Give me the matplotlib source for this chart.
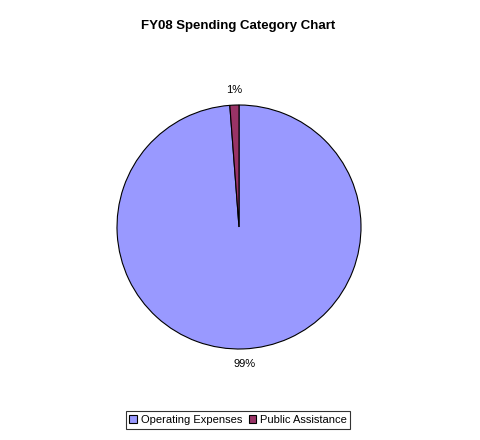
import matplotlib
matplotlib.use("Agg")
import matplotlib.pyplot as plt
from matplotlib.patches import Patch

categories = ["Operating Expenses", "Public Assistance"]
values = [98.8, 1.2]
colors = ["#9999FF", "#993366"]
title = "FY08 Spending Category Chart"

plt.rcParams['font.family'] = ['Liberation Sans', 'DejaVu Sans']

W, H = 481, 440
fig = plt.figure(figsize=(W / 100, H / 100), dpi=100)
fig.patch.set_facecolor("white")

cx, cy, r = 239, 227, 122
ax = fig.add_axes([(cx - r) / W, (H - cy - r) / H, 2 * r / W, 2 * r / H])
wedges, texts, autotexts = ax.pie(
    values, colors=colors, startangle=90, counterclock=False,
    autopct=lambda p: f"{p:.0f}%", pctdistance=1.12, radius=1,
    wedgeprops=dict(edgecolor="black", linewidth=0.8),
    textprops=dict(fontsize=8, color="black"))
ax.set_xlim(-1, 1)
ax.set_ylim(-1, 1)
ax.set_aspect("equal")
ax.axis("off")

fig.text(0.495, 1 - 26 / H, title, ha="center", va="center",
         fontsize=9.5, fontweight="bold")

handles = [Patch(facecolor=c, edgecolor="black", linewidth=0.8) for c in colors]
leg = fig.legend(handles, categories, loc="center", bbox_to_anchor=(238 / W, 1 - 420 / H),
                 ncol=2, fontsize=8, frameon=True, fancybox=False,
                 handlelength=0.7, handleheight=0.7, handletextpad=0.3,
                 columnspacing=0.6, borderpad=0.35)
leg.get_frame().set_edgecolor("black")
leg.get_frame().set_linewidth(0.8)

fig.savefig("out.png", dpi=100)
